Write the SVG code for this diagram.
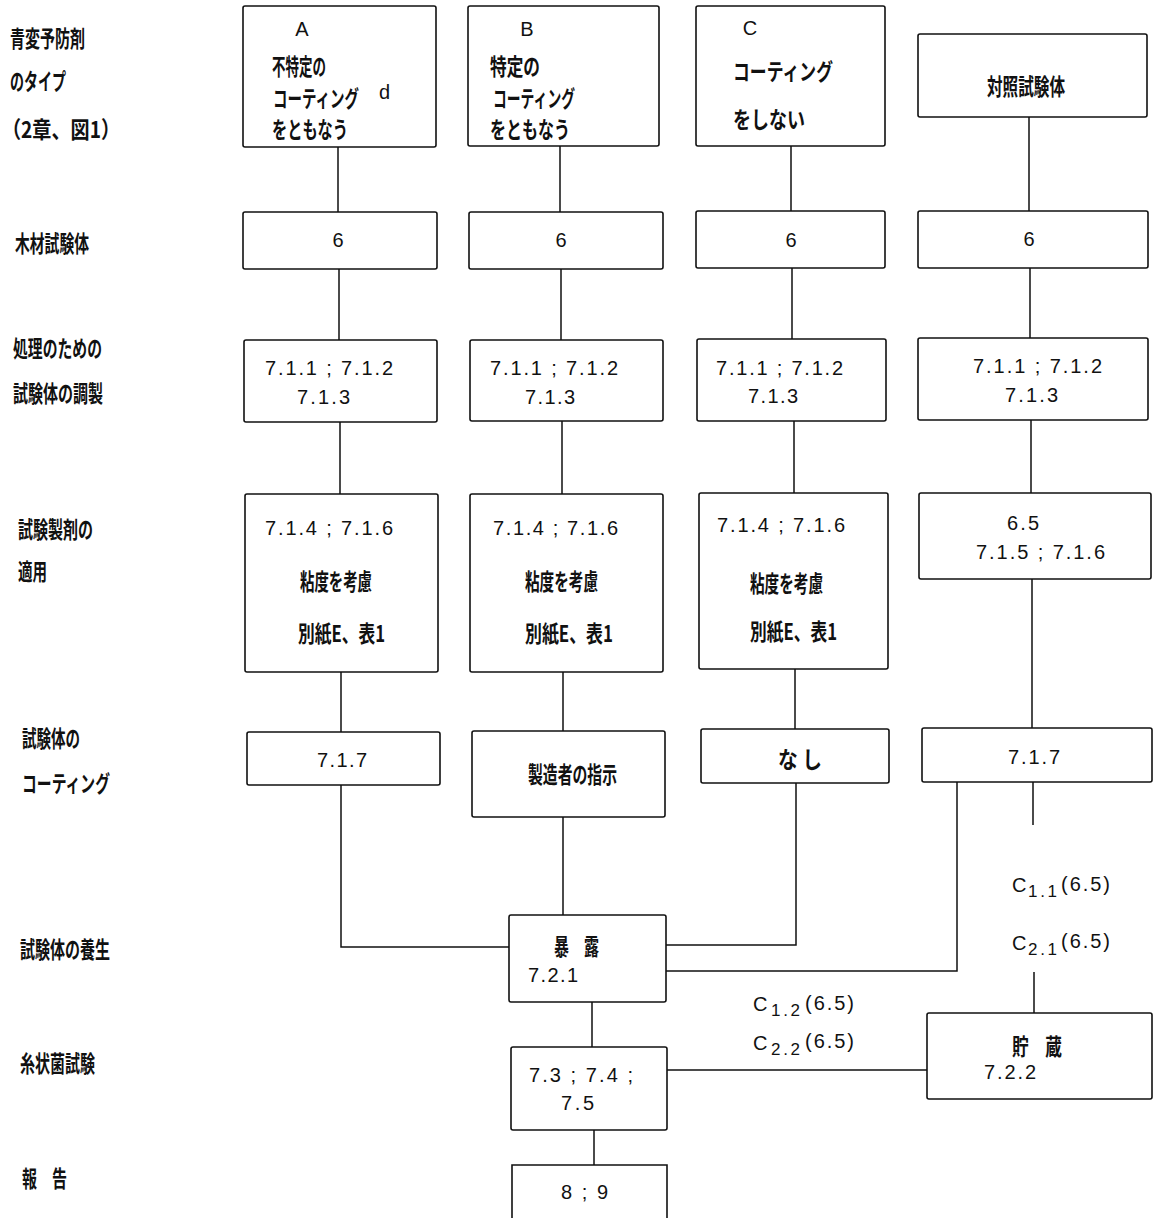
<svg xmlns="http://www.w3.org/2000/svg" width="1155" height="1218" viewBox="0 0 1155 1218">
<style>
.box{fill:none;stroke:#111;stroke-width:1.6}
.ln{fill:none;stroke:#111;stroke-width:1.5}
.jp{font-family:"Noto Sans CJK JP","Noto Sans CJK SC",sans-serif;font-weight:700;font-size:23px;fill:#111;dominant-baseline:central}
.num{font-family:"Liberation Sans",Arial,sans-serif;font-size:20px;fill:#111;dominant-baseline:central}
.sub{font-family:"Liberation Sans",Arial,sans-serif;font-size:17px;fill:#111;dominant-baseline:central}
</style>
<rect width="1155" height="1218" fill="#fff"/>
<g id="row-labels">
<text class="jp" x="10" y="37" textLength="75" lengthAdjust="spacingAndGlyphs">青変予防剤</text>
<text class="jp" x="10" y="80" textLength="56" lengthAdjust="spacingAndGlyphs">のタイプ</text>
<text class="jp" x="2" y="128" textLength="118" lengthAdjust="spacingAndGlyphs">（2章、図1）</text>
<text class="jp" x="15" y="242" textLength="74" lengthAdjust="spacingAndGlyphs">木材試験体</text>
<text class="jp" x="13" y="347" textLength="89" lengthAdjust="spacingAndGlyphs">処理のための</text>
<text class="jp" x="13" y="392" textLength="90" lengthAdjust="spacingAndGlyphs">試験体の調製</text>
<text class="jp" x="18" y="528" textLength="75" lengthAdjust="spacingAndGlyphs">試験製剤の</text>
<text class="jp" x="18" y="570" textLength="29" lengthAdjust="spacingAndGlyphs">適用</text>
<text class="jp" x="22" y="737" textLength="58" lengthAdjust="spacingAndGlyphs">試験体の</text>
<text class="jp" x="22" y="782" textLength="88" lengthAdjust="spacingAndGlyphs">コーティング</text>
<text class="jp" x="20" y="948" textLength="90" lengthAdjust="spacingAndGlyphs">試験体の養生</text>
<text class="jp" x="20" y="1062" textLength="75" lengthAdjust="spacingAndGlyphs">糸状菌試験</text>
<text class="jp" x="22" y="1177" textLength="45" lengthAdjust="spacingAndGlyphs">報　告</text>
</g>
<g id="connectors">
<path class="ln" d="M338,147V212M339,269V340M340,422V494M341,672V732M341,785V947H509"/>
<path class="ln" d="M560,146V212M561,269V340M562,421V494M563,672V731M563,817V915"/>
<path class="ln" d="M791,146V211M792,268V339M794,421V493M795,669V729M796,783V945H666"/>
<path class="ln" d="M1029,117V211M1030,268V338M1031,420V493M1032,579V728M1033,782V825M1034,972V1013"/>
<path class="ln" d="M957,782V971H666"/>
<path class="ln" d="M592,1002V1047M594,1130V1165M667,1070H927"/>
</g>
<g id="typeA">
<rect class="box" x="243" y="6" width="193" height="141" rx="2"/>
<text class="num" x="302" y="29" text-anchor="middle">A</text>
<text class="jp" x="272" y="65" textLength="54" lengthAdjust="spacingAndGlyphs">不特定の</text>
<text class="jp" transform="translate(273,97) scale(0.63,1)" x="0" y="0">コーティング</text>
<text class="num" x="379" y="92" font-size="16">d</text>
<text class="jp" x="272" y="128" textLength="76" lengthAdjust="spacingAndGlyphs">をともなう</text>
</g>
<g id="typeB">
<rect class="box" x="468" y="6" width="191" height="140" rx="2"/>
<text class="num" x="527" y="29" text-anchor="middle">B</text>
<text class="jp" x="490" y="65" textLength="50" lengthAdjust="spacingAndGlyphs">特定の</text>
<text class="jp" x="493" y="97" textLength="82" lengthAdjust="spacingAndGlyphs">コーティング</text>
<text class="jp" x="490" y="128" textLength="80" lengthAdjust="spacingAndGlyphs">をともなう</text>
</g>
<g id="typeC">
<rect class="box" x="696" y="6" width="189" height="140" rx="2"/>
<text class="num" x="750" y="28" text-anchor="middle">C</text>
<text class="jp" x="733" y="70" textLength="100" lengthAdjust="spacingAndGlyphs">コーティング</text>
<text class="jp" x="733" y="118" textLength="72" lengthAdjust="spacingAndGlyphs">をしない</text>
</g>
<g id="control">
<rect class="box" x="918" y="34" width="229" height="83" rx="2"/>
<text class="jp" x="987" y="85" textLength="78" lengthAdjust="spacingAndGlyphs">対照試験体</text>
</g>
<g id="wood-A"><rect class="box" x="243" y="212" width="194" height="57" rx="2"/><text class="num" x="338" y="240" text-anchor="middle">6</text></g>
<g id="wood-B"><rect class="box" x="469" y="212" width="194" height="57" rx="2"/><text class="num" x="561" y="240" text-anchor="middle">6</text></g>
<g id="wood-C"><rect class="box" x="696" y="211" width="189" height="57" rx="2"/><text class="num" x="791" y="240" text-anchor="middle">6</text></g>
<g id="wood-K"><rect class="box" x="918" y="211" width="230" height="57" rx="2"/><text class="num" x="1029" y="239" text-anchor="middle">6</text></g>
<g id="prep-A"><rect class="box" x="244" y="340" width="193" height="82" rx="2"/>
<text class="num" x="265" y="368" textLength="128" lengthAdjust="spacing">7.1.1 ; 7.1.2</text>
<text class="num" x="297" y="397" textLength="53" lengthAdjust="spacing">7.1.3</text></g>
<g id="prep-B"><rect class="box" x="470" y="340" width="193" height="81" rx="2"/>
<text class="num" x="490" y="368" textLength="128" lengthAdjust="spacing">7.1.1 ; 7.1.2</text>
<text class="num" x="525" y="397" textLength="50" lengthAdjust="spacing">7.1.3</text></g>
<g id="prep-C"><rect class="box" x="697" y="339" width="189" height="82" rx="2"/>
<text class="num" x="716" y="368" textLength="127" lengthAdjust="spacing">7.1.1 ; 7.1.2</text>
<text class="num" x="748" y="396" textLength="50" lengthAdjust="spacing">7.1.3</text></g>
<g id="prep-K"><rect class="box" x="918" y="338" width="230" height="82" rx="2"/>
<text class="num" x="973" y="366" textLength="129" lengthAdjust="spacing">7.1.1 ; 7.1.2</text>
<text class="num" x="1005" y="395" textLength="53" lengthAdjust="spacing">7.1.3</text></g>
<g id="apply-A"><rect class="box" x="245" y="494" width="193" height="178" rx="2"/>
<text class="num" x="265" y="528" textLength="128" lengthAdjust="spacing">7.1.4 ; 7.1.6</text>
<text class="jp" x="300" y="580" textLength="72" lengthAdjust="spacingAndGlyphs">粘度を考慮</text>
<text class="jp" x="298" y="632" textLength="87" lengthAdjust="spacingAndGlyphs">別紙E、表1</text></g>
<g id="apply-B"><rect class="box" x="470" y="494" width="193" height="178" rx="2"/>
<text class="num" x="493" y="528" textLength="125" lengthAdjust="spacing">7.1.4 ; 7.1.6</text>
<text class="jp" x="525" y="580" textLength="73" lengthAdjust="spacingAndGlyphs">粘度を考慮</text>
<text class="jp" x="525" y="632" textLength="88" lengthAdjust="spacingAndGlyphs">別紙E、表1</text></g>
<g id="apply-C"><rect class="box" x="699" y="493" width="189" height="176" rx="2"/>
<text class="num" x="717" y="525" textLength="128" lengthAdjust="spacing">7.1.4 ; 7.1.6</text>
<text class="jp" x="750" y="582" textLength="73" lengthAdjust="spacingAndGlyphs">粘度を考慮</text>
<text class="jp" x="750" y="630" textLength="87" lengthAdjust="spacingAndGlyphs">別紙E、表1</text></g>
<g id="apply-K"><rect class="box" x="919" y="493" width="232" height="86" rx="2"/>
<text class="num" x="1007" y="523" textLength="32" lengthAdjust="spacing">6.5</text>
<text class="num" x="976" y="552" textLength="129" lengthAdjust="spacing">7.1.5 ; 7.1.6</text></g>
<g id="coat-A"><rect class="box" x="247" y="732" width="193" height="53" rx="2"/>
<text class="num" x="317" y="760" textLength="50" lengthAdjust="spacing">7.1.7</text></g>
<g id="coat-B"><rect class="box" x="472" y="731" width="193" height="86" rx="2"/>
<text class="jp" x="528" y="773" textLength="89" lengthAdjust="spacingAndGlyphs">製造者の指示</text></g>
<g id="coat-C"><rect class="box" x="701" y="729" width="188" height="54" rx="2"/>
<text class="jp" x="778" y="758" textLength="44" lengthAdjust="spacingAndGlyphs">な し</text></g>
<g id="coat-K"><rect class="box" x="922" y="728" width="230" height="54" rx="2"/>
<text class="num" x="1008" y="757" textLength="52" lengthAdjust="spacing">7.1.7</text></g>
<g id="exposure"><rect class="box" x="509" y="915" width="157" height="87" rx="2"/>
<text class="jp" x="554" y="945" textLength="45" lengthAdjust="spacingAndGlyphs">暴　露</text>
<text class="num" x="528" y="975" textLength="50" lengthAdjust="spacing">7.2.1</text></g>
<g id="storage"><rect class="box" x="927" y="1013" width="225" height="86" rx="2"/>
<text class="jp" x="1012" y="1045" textLength="50" lengthAdjust="spacingAndGlyphs">貯　蔵</text>
<text class="num" x="984" y="1072" textLength="52" lengthAdjust="spacing">7.2.2</text></g>
<g id="mould-test"><rect class="box" x="511" y="1047" width="156" height="83" rx="2"/>
<text class="num" x="529" y="1075" textLength="104" lengthAdjust="spacing">7.3 ; 7.4 ;</text>
<text class="num" x="561" y="1103" textLength="33" lengthAdjust="spacing">7.5</text></g>
<g id="report"><path class="box" d="M512,1230V1165H667V1230"/>
<text class="num" x="561" y="1192" textLength="47" lengthAdjust="spacing">8 ; 9</text></g>
<g id="labels">
<text class="num" x="1012" y="885">C</text><text class="sub" x="1028" y="891" textLength="29" lengthAdjust="spacing">1.1</text><text class="num" x="1061" y="884" textLength="49" lengthAdjust="spacing">(6.5)</text>
<text class="num" x="1012" y="943">C</text><text class="sub" x="1028" y="949" textLength="29" lengthAdjust="spacing">2.1</text><text class="num" x="1061" y="941" textLength="49" lengthAdjust="spacing">(6.5)</text>
<text class="num" x="753" y="1004">C</text><text class="sub" x="771" y="1010" textLength="29" lengthAdjust="spacing">1.2</text><text class="num" x="805" y="1003" textLength="49" lengthAdjust="spacing">(6.5)</text>
<text class="num" x="753" y="1043">C</text><text class="sub" x="771" y="1049" textLength="29" lengthAdjust="spacing">2.2</text><text class="num" x="805" y="1041" textLength="49" lengthAdjust="spacing">(6.5)</text>
</g>
</svg>
